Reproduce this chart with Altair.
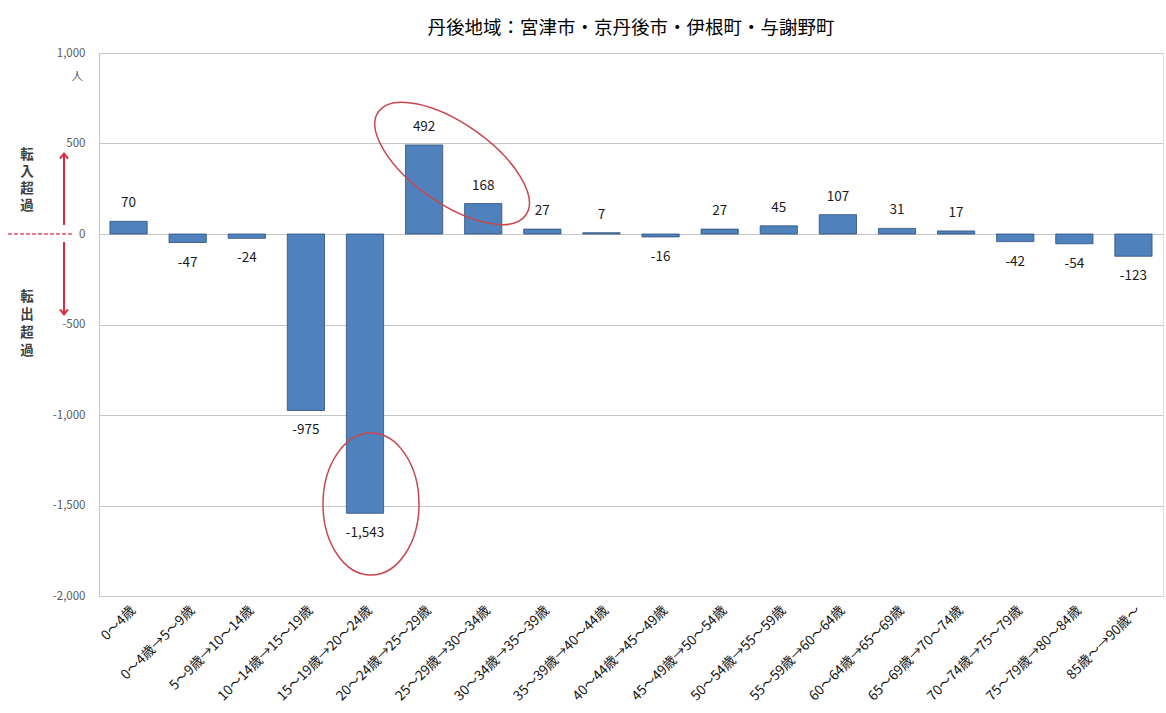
import altair as alt
import pandas as pd

FONT = "Noto Sans CJK JP"

categories = [
    "0～4歳",
    "0～4歳→5～9歳",
    "5～9歳→10～14歳",
    "10～14歳→15～19歳",
    "15～19歳→20～24歳",
    "20～24歳→25～29歳",
    "25～29歳→30～34歳",
    "30～34歳→35～39歳",
    "35～39歳→40～44歳",
    "40～44歳→45～49歳",
    "45～49歳→50～54歳",
    "50～54歳→55～59歳",
    "55～59歳→60～64歳",
    "60～64歳→65～69歳",
    "65～69歳→70～74歳",
    "70～74歳→75～79歳",
    "75～79歳→80～84歳",
    "85歳～→90歳～",
]
values = [70, -47, -24, -975, -1543, 492, 168, 27, 7, -16, 27, 45, 107, 31, 17, -42, -54, -123]

y_ticks = [1000, 500, 0, -500, -1000, -1500, -2000]
title_text = "丹後地域：宮津市・京丹後市・伊根町・与謝野町"

# annotation anchors (category, value)
ellipse1_cat = ["20～24歳→25～29歳"]
ellipse1_val = [390]
ellipse2_cat = ["15～19歳→20～24歳"]
ellipse2_val = [-1492]

df = pd.DataFrame({"cat": categories, "value": values})
one = pd.DataFrame({"a": [0]})

FMT = "(datum.value < 0 ? '-' : '') + format(abs(datum.value), ',')"

x_enc = alt.X(
    "cat:N",
    sort=None,
    scale=alt.Scale(paddingInner=0.37, paddingOuter=0.185),
    axis=alt.Axis(
        title=None,
        labelAngle=-45,
        labelFontSize=13.5,
        labelColor="#111111",
        labelFont=FONT,
        ticks=False,
        domain=False,
        labelPadding=7,
        grid=False,
    ),
)
y_scale = alt.Scale(domain=[-2000, 1000], nice=False, zero=False)
y_enc = alt.Y(
    "value:Q",
    scale=y_scale,
    axis=alt.Axis(
        title=None,
        values=y_ticks,
        labelExpr=FMT,
        grid=True,
        gridColor="#c6c6c6",
        domainColor="#c6c6c6",
        ticks=False,
        labelPadding=14,
        labelFontSize=11.5,
        labelColor="#595959",
        labelFont=FONT,
    ),
)

bars = alt.Chart(df).mark_bar(color="#4f81bd", stroke="#2f4f7a", strokeWidth=0.8).encode(
    x=x_enc, y=y_enc
)

pos_labels = (
    alt.Chart(df)
    .transform_filter("datum.value >= 0")
    .transform_calculate(label=FMT)
    .mark_text(dy=-18, fontSize=13.5, font=FONT, color="#1a1a1a", baseline="middle")
    .encode(x=alt.X("cat:N", sort=None), y=alt.Y("value:Q"), text="label:N")
)
neg_labels = (
    alt.Chart(df)
    .transform_filter("datum.value < 0")
    .transform_calculate(label=FMT)
    .mark_text(dy=20, fontSize=13.5, font=FONT, color="#1a1a1a", baseline="middle")
    .encode(x=alt.X("cat:N", sort=None), y=alt.Y("value:Q"), text="label:N")
)

ell1 = (
    alt.Chart(pd.DataFrame({"cat": ellipse1_cat, "value": ellipse1_val}))
    .mark_point(
        shape="M-1,0A1,0.444,0,1,0,1,0A1,0.444,0,1,0,-1,0Z",
        size=32400,
        angle=35,
        filled=False,
        stroke="#c8474f",
        strokeWidth=1.5,
        opacity=1,
        xOffset=28,
    )
    .encode(x=alt.X("cat:N", sort=None), y=alt.Y("value:Q"))
)
ell2 = (
    alt.Chart(pd.DataFrame({"cat": ellipse2_cat, "value": ellipse2_val}))
    .mark_point(
        shape="M-0.676,0A0.676,1,0,1,0,0.676,0A0.676,1,0,1,0,-0.676,0Z",
        size=20164,
        filled=False,
        stroke="#c8474f",
        strokeWidth=1.5,
        opacity=1,
        xOffset=6,
    )
    .encode(x=alt.X("cat:N", sort=None), y=alt.Y("value:Q"))
)

unit = alt.Chart(one).mark_text(
    text="人", fontSize=11.5, font=FONT, color="#595959", align="right", baseline="middle"
).encode(x=alt.value(-16), y=alt.Y(datum=867))

in_text = alt.Chart(one).mark_text(
    text="転\n入\n超\n過", lineBreak="\n", lineHeight=17, fontSize=13.5, fontWeight="bold",
    font=FONT, color="#404040", align="center", baseline="middle"
).encode(x=alt.value(-72), y=alt.Y(datum=436))
out_text = alt.Chart(one).mark_text(
    text="転\n出\n超\n過", lineBreak="\n", lineHeight=18, fontSize=13.5, fontWeight="bold",
    font=FONT, color="#404040", align="center", baseline="middle"
).encode(x=alt.value(-72), y=alt.Y(datum=-348))

dash = alt.Chart(one).mark_rule(color="#e0506a", strokeWidth=1.5, strokeDash=[4, 2]).encode(
    x=alt.value(-91), x2=alt.value(-27), y=alt.Y(datum=0)
)
up_arrow = alt.Chart(one).mark_rule(color="#e0283c", strokeWidth=2).encode(
    x=alt.value(-35), y=alt.Y(datum=50), y2=alt.Y2(datum=436)
)
down_arrow = alt.Chart(one).mark_rule(color="#e0283c", strokeWidth=2).encode(
    x=alt.value(-35), y=alt.Y(datum=-44), y2=alt.Y2(datum=-436)
)
up_head = alt.Chart(one).mark_point(
    shape="M-0.8,0.7L0,-0.3L0.8,0.7", size=100, filled=False, stroke="#e0283c", strokeWidth=2, opacity=1
).encode(x=alt.value(-35), y=alt.Y(datum=436))
down_head = alt.Chart(one).mark_point(
    shape="M-0.8,-0.7L0,0.3L0.8,-0.7", size=100, filled=False, stroke="#e0283c", strokeWidth=2, opacity=1
).encode(x=alt.value(-35), y=alt.Y(datum=-436))

chart = (
    alt.layer(
        bars, pos_labels, neg_labels, ell1, ell2, unit, in_text, out_text,
        dash, up_arrow, down_arrow, up_head, down_head,
    )
    .properties(
        width=1064,
        height=543,
        title=alt.TitleParams(
            title_text, font=FONT, fontSize=18.5, fontWeight="normal", color="#000000",
            anchor="middle", offset=10,
        ),
        autosize=alt.AutoSizeParams(type="none"),
        padding={"left": 99, "top": 53, "right": 3, "bottom": 117},
    )
    .configure_view(stroke=None)
    .configure(background="white")
)

chart.save("out.html", embed_options={"renderer": "svg", "actions": False})
